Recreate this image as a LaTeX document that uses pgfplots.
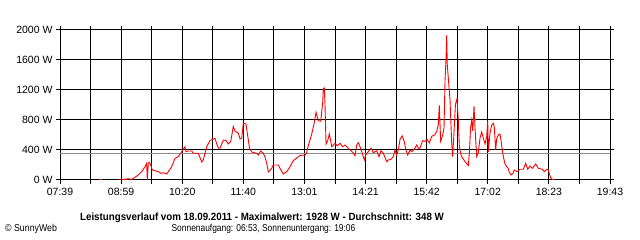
\documentclass[border=0pt]{standalone}
\usepackage{fontspec}
\setmainfont{Liberation Sans}
\usepackage{pgfplots}
\usepackage{pgfplotstable}
\pgfplotsset{compat=1.18}
\definecolor{avggray}{RGB}{140,140,140}
\pgfplotstableread{
t W
510.3 9
514.3 9
}\early
\pgfplotstableread{
t W
535.3 0
538.0 0
544.6 9
548.9 17
553.4 9
557.7 36
562.1 67
566.5 111
570.9 177
573.1 223
573.9 0
575.2 223
576.6 236
578.4 200
580.5 133
584.1 124
588.4 111
592.0 89
595.0 97
599.5 80
601.6 111
606.0 177
610.4 289
614.7 311
619.2 377
623.5 444
624.9 377
627.9 387
632.4 387
634.5 356
641.1 356
645.5 240
647.6 267
652.1 444
656.5 527
660.8 547
663.0 553
667.4 423
669.6 423
674.0 533
677.5 527
680.5 480
683.7 511
687.1 713
689.4 653
693.7 623
696.0 547
698.2 560
700.3 756
703.8 747
706.1 587
708.5 423
711.4 373
717.9 356
720.0 333
723.2 387
726.6 356
728.9 307
731.1 223
733.2 107
737.7 156
739.8 200
746.4 200
748.6 156
752.9 80
757.4 111
761.8 177
766.1 257
770.6 293
774.9 327
781.5 333
783.5 360
785.9 457
790.3 613
793.4 747
796.0 903
799.0 791
802.2 783
804.8 1036
805.6 1213
806.9 1227
807.8 1013
809.2 480
811.4 524
813.5 613
815.3 524
816.7 444
821.0 489
824.0 457
827.6 489
831.1 444
834.2 467
837.2 436
840.7 400
844.3 369
847.3 324
849.6 467
851.7 497
853.9 444
856.9 356
859.6 267
861.4 333
864.8 377
868.4 423
871.4 364
875.9 391
878.9 311
881.6 391
884.6 356
889.1 244
891.2 267
894.7 276
897.7 311
900.0 400
902.2 333
904.3 400
906.6 543
909.6 587
912.2 511
914.1 409
916.7 333
919.7 400
922.0 377
925.4 409
928.5 467
931.6 409
932.9 427
936.4 524
939.5 516
942.5 537
945.1 493
948.3 583
952.6 604
954.9 649
957.0 737
958.3 996
960.1 516
962.8 604
964.5 693
965.8 1316
967.1 1604
968.0 1928
968.8 1537
971.5 1183
972.4 1067
974.6 493
975.9 313
977.6 627
979.6 1013
981.6 1080
983.3 800
984.6 467
986.2 360
987.8 311
992.1 244
996.5 193
998.1 400
999.4 693
1001.0 800
1002.3 653
1004.0 983
1005.3 693
1006.6 467
1007.5 313
1009.6 364
1011.9 560
1014.1 640
1016.2 560
1018.5 480
1020.7 577
1022.0 791
1022.8 377
1025.0 623
1027.3 733
1029.4 756
1030.7 703
1032.5 400
1033.9 556
1036.9 613
1038.2 609
1039.5 533
1041.2 400
1042.6 311
1044.8 213
1047.0 177
1049.1 156
1050.1 111
1052.7 67
1055.7 93
1057.0 133
1060.6 111
1064.5 143
1068.9 143
1072.0 223
1074.7 143
1077.7 187
1080.7 156
1085.2 213
1088.6 156
1093.9 143
1096.5 111
1099.7 143
1101.8 133
1103.6 67
1105.3 23
1108.4 0
1110.6 0
}\main
\begin{document}
\begin{tikzpicture}[x=1pt,y=1pt]
\useasboundingbox (0,0) rectangle (640,240);
\begin{axis}[
  at={(60pt,60pt)}, anchor=south west,
  scale only axis, width=550pt, height=150pt,
  xmin=459, xmax=1183, ymin=0, ymax=2000,
  xtick={459,499.22,539.44,579.67,619.89,660.11,700.33,740.56,780.78,821,861.22,901.44,941.67,981.89,1022.11,1062.33,1102.56,1142.78,1183},
  xticklabels={07:39,,08:59,,10:20,,11:40,,13:01,,14:21,,15:42,,17:02,,18:23,,19:43},
  ytick={0,400,800,1200,1600,2000},
  yticklabels={0 W,400 W,800 W,1200 W,1600 W,2000 W},
  tick align=outside, major tick length=4pt,
  tick style={black, line width=1pt},
  grid=major, major grid style={black, line width=1pt},
  axis line style={black, line width=1pt},
  /pgf/number format/assume math mode=true,
  ticklabel style={font=\fontsize{10.5}{12}\selectfont, text=black},
  xticklabel style={yshift=-1pt},
  clip=true,
]
\addplot[avggray, line width=0.9pt, forget plot] coordinates {(459,348) (1183,348)};
\addplot[red, line width=0.9pt, mark=none] table[x=t,y=W] {\early};
\addplot[red, line width=0.9pt, mark=none] table[x=t,y=W] {\main};
\end{axis}
\node[font=\bfseries\fontsize{10.5}{12}\selectfont, inner sep=0pt] at (262,22) {\scalebox{0.93}[1]{Leistungsverlauf vom 18.09.2011 - Maximalwert: 1928 W - Durchschnitt: 348 W}};
\node[font=\fontsize{10}{12}\selectfont, inner sep=0pt] at (263.5,11) {\scalebox{0.84}[1]{Sonnenaufgang: 06:53, Sonnenuntergang: 19:06}};
\node[font=\fontsize{10}{12}\selectfont, inner sep=0pt, anchor=west] at (5,11) {\scalebox{0.88}[1]{\textcopyright{} SunnyWeb}};
\end{tikzpicture}
\end{document}
